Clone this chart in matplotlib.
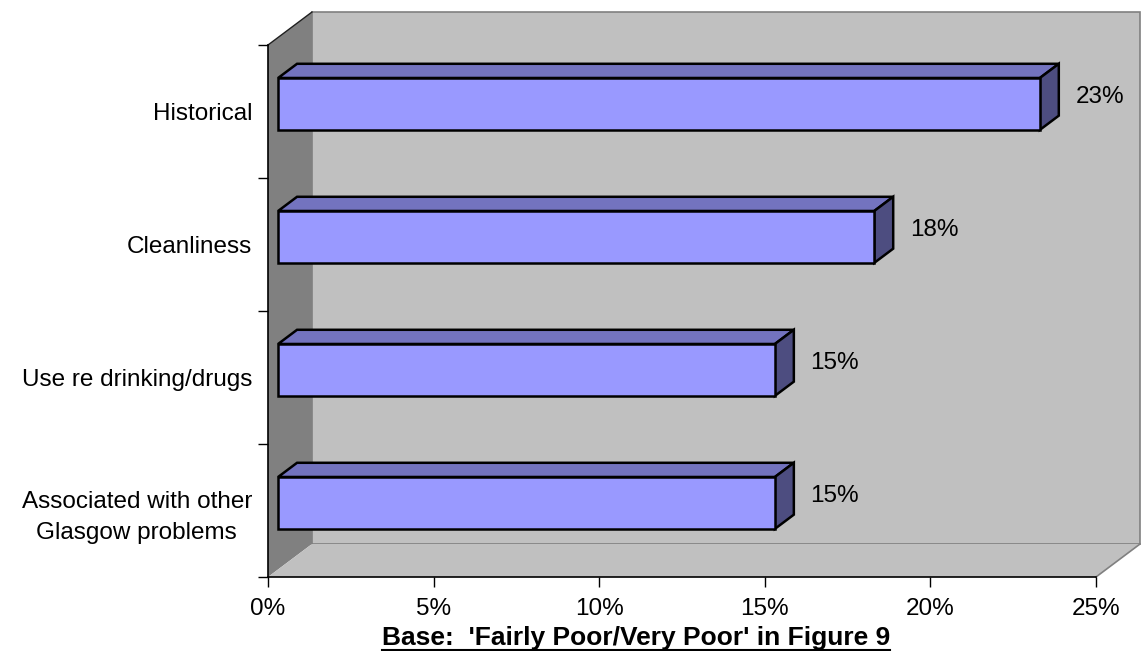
import numpy as np
import matplotlib
matplotlib.use('Agg')
import matplotlib.pyplot as plt
from matplotlib.patches import Polygon
from matplotlib.lines import Line2D
from matplotlib.ticker import FixedLocator, FixedFormatter

plt.rcParams['font.family'] = ['Liberation Sans', 'DejaVu Sans']

## data
categories = ['Associated with other\nGlasgow problems', 'Use re drinking/drugs',
              'Cleanliness', 'Historical']
values = [15, 15, 18, 23]
labels = ['15%', '15%', '18%', '23%']
xticks = [0, 5, 10, 15, 20, 25]
xticklabels = ['0%', '5%', '10%', '15%', '20%', '25%']
footnote = "Base:  'Fairly Poor/Very Poor' in Figure 9"

W, H = 1141, 651
fig = plt.figure(figsize=(W / 100, H / 100), dpi=100)
ax = fig.add_axes([268 / W, (H - 577) / H, 828 / W, 532 / H])
ax.set_xlim(0, 25)
ax.set_ylim(0, 4)
ax.patch.set_visible(False)

# depth of the 3d box in data units
DX = 44 / (828 / 25.)
DY = 33 / 133.
z0, z1 = 0.23, 0.66   # bar front / back depth
hh = 0.195            # half bar height

wall = '#C0C0C0'
dark = '#808080'

## walls
ax.add_patch(Polygon([(0, 0), (DX, DY), (DX, 4 + DY), (0, 4)], closed=True,
                     facecolor=dark, edgecolor='none', clip_on=False, zorder=0))
ax.add_patch(Polygon([(DX, DY), (25 + DX, DY), (25 + DX, 4 + DY), (DX, 4 + DY)], closed=True,
                     facecolor=wall, edgecolor=dark, lw=1.2, clip_on=False, zorder=0))
ax.add_patch(Polygon([(0, 0), (25, 0), (25 + DX, DY), (DX, DY)], closed=True,
                     facecolor=wall, edgecolor='none', clip_on=False, zorder=0.5))
ax.add_line(Line2D([25, 25 + DX], [0, DY], color=dark, lw=1.2, clip_on=False, zorder=0.6))
ax.add_line(Line2D([0, DX], [4, 4 + DY], color='#202020', lw=1.0, clip_on=False, zorder=0.6))

## bars
for i, v in enumerate(values):
    c = i + 0.5
    a0, b0 = z0 * DX, z0 * DY
    a1, b1 = z1 * DX, z1 * DY
    front = [(a0, c - hh + b0), (v + a0, c - hh + b0), (v + a0, c + hh + b0), (a0, c + hh + b0)]
    top = [(a0, c + hh + b0), (v + a0, c + hh + b0), (v + a1, c + hh + b1), (a1, c + hh + b1)]
    side = [(v + a0, c - hh + b0), (v + a0, c + hh + b0), (v + a1, c + hh + b1), (v + a1, c - hh + b1)]
    for pts, col in [(top, '#7373BF'), (side, '#4D4D80'), (front, '#9999FF')]:
        ax.add_patch(Polygon(pts, closed=True, facecolor=col, edgecolor='black',
                             lw=1.8, joinstyle='miter', clip_on=False, zorder=2))
    ax.text(v + a1 + 0.5, c + (b0 + b1) / 2, labels[i], fontsize=17.5,
            ha='left', va='center', zorder=3)

## axes
for s in ['top', 'right']:
    ax.spines[s].set_visible(False)
for s in ['left', 'bottom']:
    ax.spines[s].set_color('black')
    ax.spines[s].set_linewidth(1.2)
    ax.spines[s].set_zorder(1)

ax.set_xticks(xticks)
ax.set_xticklabels(xticklabels, fontsize=17.5)
ax.tick_params(axis='x', direction='out', length=7.2, width=1.0, pad=8)

ax.yaxis.set_major_locator(FixedLocator([0, 1, 2, 3, 4]))
ax.yaxis.set_major_formatter(FixedFormatter(['', '', '', '', '']))
ax.yaxis.set_minor_locator(FixedLocator([0.5, 1.5, 2.5, 3.5]))
ax.yaxis.set_minor_formatter(FixedFormatter(categories))
ax.tick_params(axis='y', which='major', direction='out', length=7.2, width=1.0)
ax.tick_params(axis='y', which='minor', length=0, pad=11.5, labelsize=17.5)
for t in ax.yaxis.get_minorticklabels():
    t.set_multialignment('center')
    t.set_linespacing(1.5)

## footnote, bold and underlined
ft = fig.text(636 / W, 1 - 638 / H, footnote, fontsize=19, fontweight='bold',
              ha='center', va='center')
fig.canvas.draw()
bb = ft.get_window_extent(fig.canvas.get_renderer())
uy = (H - 649.5) / H
fig.add_artist(Line2D([bb.x0 / W, bb.x1 / W], [uy, uy], color='black', lw=1.5,
                      transform=fig.transFigure))

fig.savefig('out.png', dpi=100)
